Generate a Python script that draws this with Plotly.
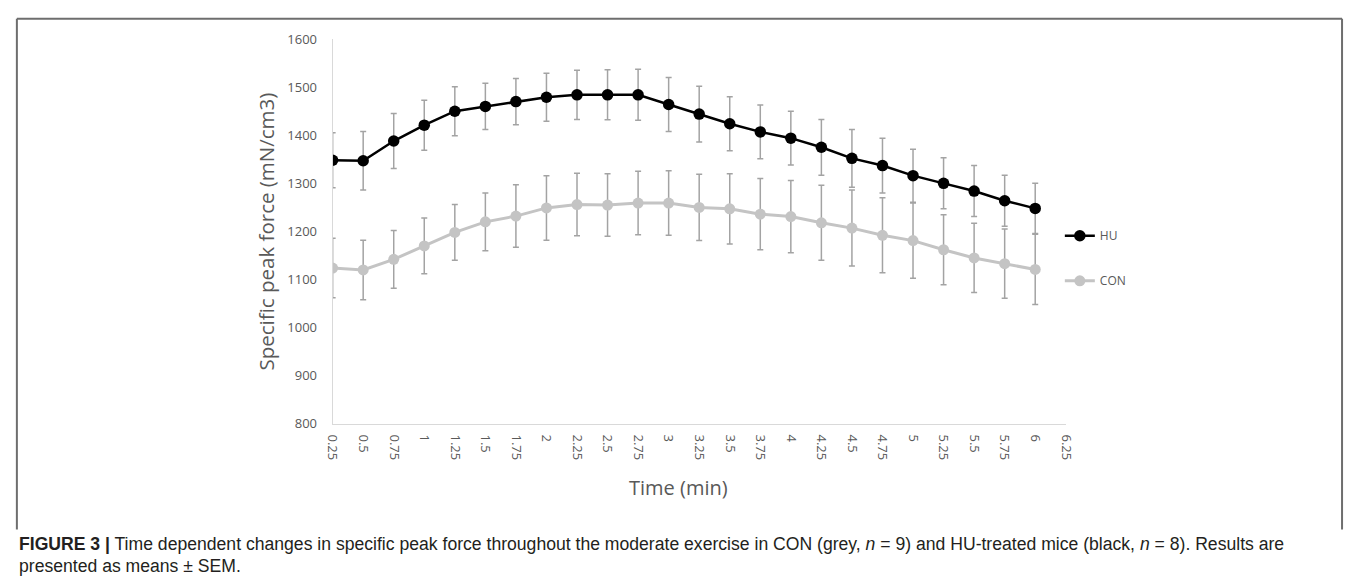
import plotly.graph_objects as go

W, H = 1355, 588

time_labels = ["0.25", "0.5", "0.75", "1", "1.25", "1.5", "1.75", "2", "2.25", "2.5",
               "2.75", "3", "3.25", "3.5", "3.75", "4", "4.25", "4.5", "4.75", "5",
               "5.25", "5.5", "5.75", "6", "6.25"]

hu_mean = [1348, 1347, 1388, 1421, 1450, 1460, 1470, 1479, 1484, 1484, 1484, 1464,
           1444, 1424, 1407, 1394, 1375, 1352, 1337, 1316, 1300, 1284, 1264, 1248]
hu_sem = [57, 61, 57, 52, 51, 48, 48, 50, 51, 52, 53, 56,
          58, 56, 56, 56, 58, 60, 57, 55, 53, 53, 53, 52]

con_mean = [1124, 1120, 1142, 1170, 1198, 1220, 1232, 1249, 1256, 1255, 1259, 1259,
            1250, 1247, 1236, 1231, 1218, 1207, 1192, 1181, 1162, 1145, 1133, 1121]
con_sem = [62, 62, 60, 58, 58, 60, 65, 67, 65, 65, 66, 67,
           69, 73, 74, 75, 78, 79, 78, 78, 73, 72, 72, 73]

y_ticks = [800, 900, 1000, 1100, 1200, 1300, 1400, 1500, 1600]

x_pos = list(range(len(hu_mean)))
tick_pos = list(range(len(time_labels)))

def px(x):
    return x / W

def py(y):
    return 1 - y / H

fig = go.Figure()

fig.add_trace(go.Scatter(
    x=x_pos, y=hu_mean, name="HU", mode="lines+markers",
    line=dict(color="#000000", width=2.5),
    marker=dict(color="#000000", size=11.5),
    error_y=dict(type="data", array=hu_sem, visible=True,
                 color="#a3a3a3", thickness=1.5, width=3),
    legendgroup="a",
))
fig.add_trace(go.Scatter(
    x=x_pos, y=con_mean, name="CON", mode="lines+markers",
    line=dict(color="#c4c4c4", width=3),
    marker=dict(color="#c4c4c4", size=11),
    error_y=dict(type="data", array=con_sem, visible=True,
                 color="#a3a3a3", thickness=1.5, width=3),
    legendgroup="b",
))

tick_font = dict(family="Open Sans", size=13, color="#595959")

fig.update_layout(
    width=W, height=H,
    margin=dict(l=0, r=0, t=0, b=0),
    paper_bgcolor="white", plot_bgcolor="white",
    font=dict(family="Open Sans", color="#595959"),
    showlegend=True,
    legend=dict(x=px(1066), y=py(219), xanchor="left", yanchor="top",
                traceorder="grouped", tracegroupgap=26,
                itemwidth=30, bgcolor="rgba(0,0,0,0)",
                font=dict(family="Open Sans", size=12, color="#595959")),
    xaxis=dict(domain=[px(329), px(1072)], range=[0, len(time_labels) - 1],
               tickmode="array", tickvals=tick_pos, ticktext=time_labels,
               tickangle=90, tickfont=tick_font, showgrid=False, zeroline=False,
               showline=True, linecolor="#d9d9d9", linewidth=1,
               ticks="", ticklabelstandoff=7),
    yaxis=dict(domain=[py(428), py(31)], range=[800, 1600],
               tickmode="array", tickvals=y_ticks, tickfont=tick_font,
               showgrid=False, zeroline=False,
               showline=True, linecolor="#d9d9d9", linewidth=1,
               ticks="", ticklabelstandoff=12),
)

fig.add_annotation(x=px(261), y=py(230), xref="paper", yref="paper",
                   xanchor="center", yanchor="middle",
                   text="Specific peak force (mN/cm3)", textangle=-90,
                   showarrow=False, font=dict(family="Open Sans", size=20.5, color="#595959"))
fig.add_annotation(x=px(680), y=py(494), xref="paper", yref="paper",
                   xanchor="center", yanchor="middle",
                   text="Time (min)", showarrow=False,
                   font=dict(family="Open Sans", size=20, color="#595959"))

cap_font = dict(family="Liberation Sans", size=17.6, color="#231f20")
fig.add_annotation(x=px(9), y=py(552), xref="paper", yref="paper", xanchor="left",
                   yanchor="middle", showarrow=False, font=cap_font,
                   text="<b>FIGURE 3 |</b> Time dependent changes in specific peak force throughout the "
                        "moderate exercise in CON (grey, <i>n</i> = 9) and HU-treated mice (black, "
                        "<i>n</i> = 8). Results are")
fig.add_annotation(x=px(9), y=py(575), xref="paper", yref="paper", xanchor="left",
                   yanchor="middle", showarrow=False, font=cap_font,
                   text="presented as means ± SEM.")

box = dict(color="#6e6e6e", width=2)
fig.add_shape(type="line", xref="paper", yref="paper", x0=px(9), x1=px(1352), y0=py(10), y1=py(10), line=box)
fig.add_shape(type="line", xref="paper", yref="paper", x0=px(9), x1=px(9), y0=py(10), y1=py(537), line=box)
fig.add_shape(type="line", xref="paper", yref="paper", x0=px(1352), x1=px(1352), y0=py(10), y1=py(537), line=box)

fig.write_html("out.html", config={"displayModeBar": False},
               post_script="document.body.style.margin='0';document.body.style.overflow='hidden';")
